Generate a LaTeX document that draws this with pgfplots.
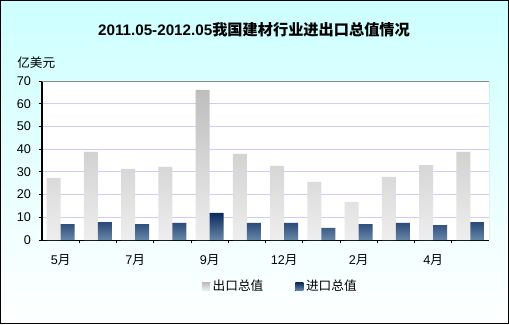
\documentclass[border=0pt]{standalone}
\usepackage{pgfplots}
\pgfplotsset{compat=1.18}
\usepackage{fontspec}
\setmainfont{Noto Sans CJK SC}
\newfontfamily\lat{Liberation Sans}
\definecolor{bgtop}{RGB}{204,255,255}
\definecolor{gridc}{RGB}{204,204,255}
\definecolor{extop}{RGB}{190,190,190}
\definecolor{exbot}{RGB}{238,238,238}
\definecolor{imtop}{RGB}{10,42,94}
\definecolor{imbot}{RGB}{104,134,168}
\definecolor{framegray}{RGB}{140,140,140}
\begin{document}
\begin{tikzpicture}
\shade[top color=bgtop, bottom color=white] (0pt,0pt) rectangle (381.75pt,243pt);
\node[font=\fontsize{11.4}{13}\selectfont\bfseries] at (190.5pt,220.5pt) {{\lat\bfseries 2011.05-2012.05}我国建材行业进出口总值情况};
\node[anchor=west, font=\fontsize{9.5}{11}\selectfont, inner sep=0pt] at (12.75pt,195.75pt) {亿美元};
\begin{axis}[
  at={(31.5pt,63pt)}, anchor=south west,
  scale only axis, width=335.25pt, height=119.25pt,
  ymin=0, ymax=70, xmin=-0.5, xmax=11.5,
  ytick={0,10,...,70},
  axis lines*=left,
  axis line style={black, line width=0.75pt},
  tick style={black, line width=0.75pt},
  major tick length=2.25pt,
  tick align=outside,
  axis background/.style={fill=white},
  ymajorgrids,
  major grid style={gridc, line width=0.75pt},
  /pgf/number format/assume math mode=true,
  yticklabel style={font=\lat\fontsize{9.5}{11}\selectfont, xshift=-2.5pt},
  xtick={0.5,1.5,...,10.5},
  xticklabels={},
  extra x ticks={0,2,4,6,8,10},
  extra x tick labels={{\lat 5}月,{\lat 7}月,{\lat 9}月,{\lat 12}月,{\lat 2}月,{\lat 4}月},
  extra x tick style={major tick length=0pt, xticklabel style={font=\fontsize{9.5}{11}\selectfont, yshift=-7.3pt}},
  ybar=0pt, bar width=10.5pt,
  legend style={at={(0.534,-0.2925)}, anchor=center, draw=none, fill=none,
    legend columns=2, font=\fontsize{9.5}{11}\selectfont,
    /tikz/every even column/.append style={column sep=22pt}},
]
\addplot[draw=none, top color=extop, bottom color=exbot,
  legend image code/.code={\fill[top color=extop,bottom color=exbot] (0pt,-3pt) rectangle (6pt,3pt);}]
  coordinates {(0,27.3) (1,38.8) (2,31.3) (3,32.2) (4,66.1) (5,37.9) (6,32.6) (7,25.6) (8,16.7) (9,27.8) (10,33.0) (11,38.8)};
\addlegendentry{出口总值}
\addplot[draw=none, top color=imtop, bottom color=imbot,
  legend image code/.code={\fill[top color=imtop,bottom color=imbot] (0pt,-3pt) rectangle (6pt,3pt);}]
  coordinates {(0,7.0) (1,7.9) (2,7.0) (3,7.5) (4,11.9) (5,7.5) (6,7.5) (7,5.3) (8,7.0) (9,7.5) (10,6.6) (11,7.9)};
\addlegendentry{进口总值}
\draw[framegray, line width=0.75pt] (rel axis cs:0,1) -- (rel axis cs:1,1) -- (rel axis cs:1,0);
\end{axis}
\draw[black, line width=1pt] (0.5pt,0.5pt) rectangle (381.25pt,242.5pt);
\end{tikzpicture}
\end{document}
